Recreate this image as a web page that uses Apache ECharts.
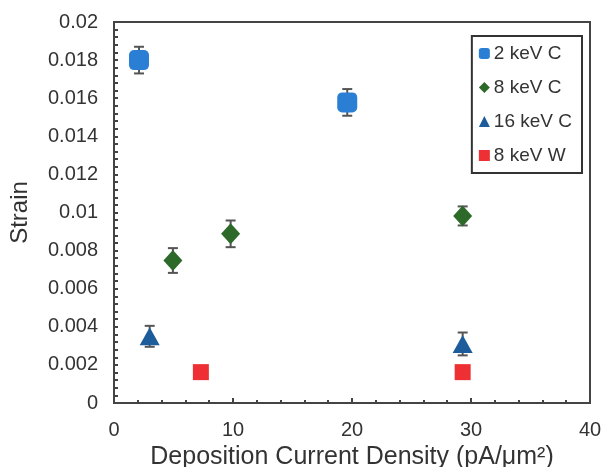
<!DOCTYPE html>
<html><head><meta charset="utf-8">
<script src="https://cdn.jsdelivr.net/npm/echarts@6/dist/echarts.min.js"></script>
<style>html,body{margin:0;padding:0;background:#fff}#c{width:605px;height:467px}</style>
</head><body><div id="c"></div>
<script>
var seriesNames = ['2 keV C', '8 keV C', '16 keV C', '8 keV W'];
var xC2 = [2.1, 19.6];
var yC2 = [0.0180, 0.01578];
var eC2 = [0.0007, 0.0007];
var xC8 = [4.95, 9.8, 29.3];
var yC8 = [0.00748, 0.00888, 0.00982];
var eC8 = [0.00065, 0.0007, 0.0005];
var xC16 = [3.0, 29.3];
var yC16 = [0.0035, 0.0031];
var eC16 = [0.00055, 0.0006];
var xW8 = [7.3, 29.3];
var yW8 = [0.00162, 0.00162];
var xTickLabels = ['0', '10', '20', '30', '40'];
var yTickLabels = ['0', '0.002', '0.004', '0.006', '0.008', '0.01', '0.012', '0.014', '0.016', '0.018', '0.02'];

var font = '"Liberation Sans", Arial, sans-serif';
var txt = '#333';
function pts(xs, ys){ return xs.map(function(x,i){ return [x, ys[i]]; }); }
var errData = [];
[[xC2,yC2,eC2],[xC8,yC8,eC8],[xC16,yC16,eC16]].forEach(function(s){
  s[0].forEach(function(x,i){ errData.push([x, s[1][i]-s[2][i], s[1][i]+s[2][i]]); });
});

var chart = echarts.init(document.getElementById('c'), null, {renderer:'canvas'});
chart.setOption({
  animation: false,
  grid: {left:114, right:15, top:22, bottom:64, outerBoundsMode:'none', containLabel:false,
    show:true, borderColor:'#444', borderWidth:2, backgroundColor:'transparent'},
  xAxis: {
    type:'value', min:0, max:40, interval:10,
    name:'Deposition Current Density (pA/μm²)', nameLocation:'middle', nameGap:35,
    nameTextStyle:{fontFamily:font, fontSize:25, color:txt},
    axisLine:{lineStyle:{color:'#444', width:2}},
    axisTick:{inside:true, length:5, lineStyle:{color:'#444', width:2}},
    minorTick:{show:true, splitNumber:5, length:3, lineStyle:{color:'#444', width:2}},
    splitLine:{show:false},
    axisLabel:{fontFamily:font, fontSize:20, color:txt, margin:17,
      formatter:function(v){ return xTickLabels[Math.round(v/10)]; }}
  },
  yAxis: {
    type:'value', min:0, max:0.02, interval:0.002,
    name:'Strain', nameLocation:'middle', nameGap:82, nameRotate:90,
    nameTextStyle:{fontFamily:font, fontSize:24, color:txt},
    axisLine:{lineStyle:{color:'#444', width:2}},
    axisTick:{inside:true, length:4, lineStyle:{color:'#444', width:2}},
    minorTick:{show:true, splitNumber:5, length:4, lineStyle:{color:'#444', width:2}},
    splitLine:{show:false},
    axisLabel:{fontFamily:font, fontSize:20, color:txt, margin:16,
      formatter:function(v){ return yTickLabels[Math.round(v/0.002)]; }}
  },
  legend: {
    orient:'vertical', right:23, top:36, data:seriesNames,
    borderColor:'#333', borderWidth:2, padding:[8,10,8,7], itemGap:15,
    itemWidth:11, itemHeight:11,
    textStyle:{fontFamily:font, fontSize:19, color:txt, padding:[0,0,0,-1]}
  },
  series: [
    {type:'custom', name:'err', silent:true, z:1, data:errData,
      renderItem:function(params, api){
        var x = api.value(0);
        var lo = api.coord([x, api.value(1)]);
        var hi = api.coord([x, api.value(2)]);
        var st = {stroke:'#555', lineWidth:2};
        return {type:'group', children:[
          {type:'line', shape:{x1:lo[0], y1:lo[1], x2:hi[0], y2:hi[1]}, style:st},
          {type:'line', shape:{x1:lo[0]-5, y1:lo[1], x2:lo[0]+5, y2:lo[1]}, style:st},
          {type:'line', shape:{x1:hi[0]-5, y1:hi[1], x2:hi[0]+5, y2:hi[1]}, style:st}
        ]};
      }},
    {type:'scatter', name:seriesNames[0], z:3, data:pts(xC2,yC2), symbol:'roundRect', symbolSize:[20,20], itemStyle:{color:'#2A7FD4', opacity:1}},
    {type:'scatter', name:seriesNames[1], z:3, data:pts(xC8,yC8), symbol:'diamond', symbolSize:[19,21], itemStyle:{color:'#2D6A2A', opacity:1}},
    {type:'scatter', name:seriesNames[2], z:3, data:pts(xC16,yC16), symbol:'triangle', symbolSize:[20,18], itemStyle:{color:'#1D5C9A', opacity:1}},
    {type:'scatter', name:seriesNames[3], z:3, data:pts(xW8,yW8), symbol:'rect', symbolSize:[16,16], itemStyle:{color:'#EE3034', opacity:1}}
  ]
});
</script>
</body></html>
